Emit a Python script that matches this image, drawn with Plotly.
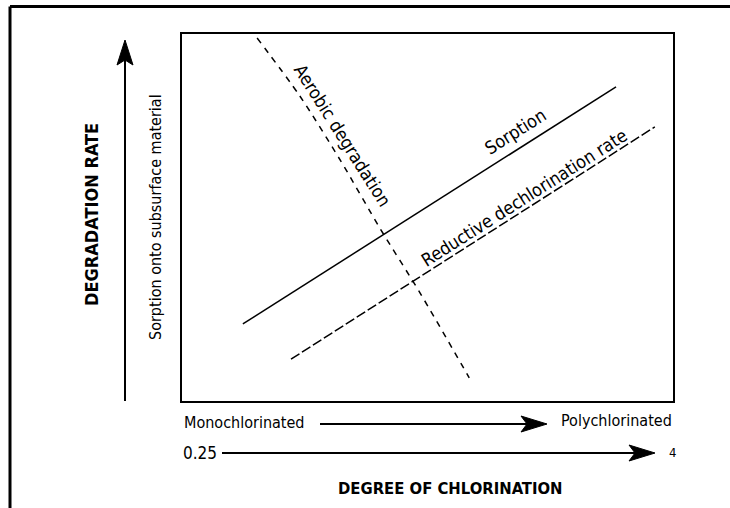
import plotly.graph_objects as go

# ---- data (conceptual diagram, plot units 0-10) ----
sorption_x = [1.24, 8.84]
sorption_y = [2.10, 8.56]
reductive_x = [2.22, 9.63]
reductive_y = [1.14, 7.47]
aerobic_x = [1.53, 2.40, 3.22, 4.03, 4.85, 5.85]
aerobic_y = [9.89, 8.31, 6.57, 4.71, 2.94, 0.63]

line_labels = ["Aerobic degradation", "Sorption", "Reductive dechlorination rate"]
y_title = "DEGRADATION RATE"
y_subtitle = "Sorption onto subsurface material"
x_title = "DEGREE OF CHLORINATION"
x_low_label = "Monochlorinated"
x_high_label = "Polychlorinated"
x_low_value = "0.25"
x_high_value = "4"

W, H = 730, 508
L, R, T, B = 182, 673, 34, 401
FONT = "DejaVu Sans Condensed, Liberation Sans Narrow, Arial Narrow, sans-serif"


def px(x):
    return (x - L) / (R - L)


def py(y):
    return (B - y) / (B - T)


fig = go.Figure()
fig.add_trace(go.Scatter(x=sorption_x, y=sorption_y, mode="lines",
                         line=dict(color="black", width=1.5), hoverinfo="skip"))
fig.add_trace(go.Scatter(x=reductive_x, y=reductive_y, mode="lines",
                         line=dict(color="black", width=1.5, dash="10px,3px"), hoverinfo="skip"))
fig.add_trace(go.Scatter(x=aerobic_x, y=aerobic_y, mode="lines",
                         line=dict(color="black", width=1.5, dash="6px,6px", shape="spline", smoothing=0.8),
                         hoverinfo="skip"))

shapes = []
# outer frame (top and left only)
shapes.append(dict(type="line", xref="paper", yref="paper", x0=px(10), y0=py(6.5), x1=px(735), y1=py(6.5),
                   line=dict(color="black", width=3)))
shapes.append(dict(type="line", xref="paper", yref="paper", x0=px(10), y0=py(6.5), x1=px(10), y1=py(515),
                   line=dict(color="black", width=3)))

# vertical arrow
shapes.append(dict(type="line", xref="paper", yref="paper", x0=px(125), y0=py(401), x1=px(125), y1=py(60),
                   line=dict(color="black", width=2)))


def head_up(xc, tip, base, half):
    return (f"M {px(xc)},{py(tip)} L {px(xc - half)},{py(base)} L {px(xc)},{py(base - 5)} "
            f"L {px(xc + half)},{py(base)} Z")


def head_right(yc, tip, base, half):
    return (f"M {px(tip)},{py(yc)} L {px(base)},{py(yc - half)} L {px(base + 6)},{py(yc)} "
            f"L {px(base)},{py(yc + half)} Z")


shapes.append(dict(type="path", xref="paper", yref="paper", path=head_up(125, 40, 65, 8),
                   fillcolor="black", line=dict(color="black", width=1)))

# horizontal arrows
shapes.append(dict(type="line", xref="paper", yref="paper", x0=px(320), y0=py(424), x1=px(535), y1=py(424),
                   line=dict(color="black", width=2)))
shapes.append(dict(type="path", xref="paper", yref="paper", path=head_right(424, 547, 521, 8),
                   fillcolor="black", line=dict(color="black", width=1)))
shapes.append(dict(type="line", xref="paper", yref="paper", x0=px(222), y0=py(453), x1=px(640), y1=py(453),
                   line=dict(color="black", width=2)))
shapes.append(dict(type="path", xref="paper", yref="paper", path=head_right(453, 655, 629, 8),
                   fillcolor="black", line=dict(color="black", width=1)))

ann = []


def text(t, x, y, size, angle=0, xanchor="center", bold=False):
    ann.append(dict(text=f"<b>{t}</b>" if bold else t, xref="paper", yref="paper", x=px(x), y=py(y),
                    xanchor=xanchor, yanchor="middle", showarrow=False, textangle=angle,
                    font=dict(family=FONT, size=size, color="black")))


text(y_title, 92, 215, 18, angle=-90, bold=True)
text(y_subtitle, 155, 217, 16, angle=-90)
text(x_low_label, 182, 422, 16, xanchor="left")
text(x_high_label, 674, 421, 16, xanchor="right")
text(x_low_value, 181, 453, 17, xanchor="left")
text(x_high_value, 667, 452, 13, xanchor="left")
text(x_title, 450, 488, 16.5, bold=True)

# line labels
text(line_labels[0], 343, 135, 18, angle=57.7)
text(line_labels[1], 515, 131, 18, angle=-32.4)
text(line_labels[2], 524, 197, 18, angle=-32.4)

fig.update_layout(
    width=W, height=H, autosize=False,
    margin=dict(l=L, r=W - R, t=T, b=H - B),
    paper_bgcolor="white", plot_bgcolor="white",
    showlegend=False,
    shapes=shapes, annotations=ann,
    xaxis=dict(range=[0, 10], showgrid=False, zeroline=False, showticklabels=False, ticks="",
               showline=True, mirror=True, linecolor="black", linewidth=2, fixedrange=True),
    yaxis=dict(range=[0, 10], showgrid=False, zeroline=False, showticklabels=False, ticks="",
               showline=True, mirror=True, linecolor="black", linewidth=2, fixedrange=True),
)

fig.write_html("out.html", config=dict(displayModeBar=False),
               post_script="document.body.style.margin='0';document.body.style.overflow='hidden';")
